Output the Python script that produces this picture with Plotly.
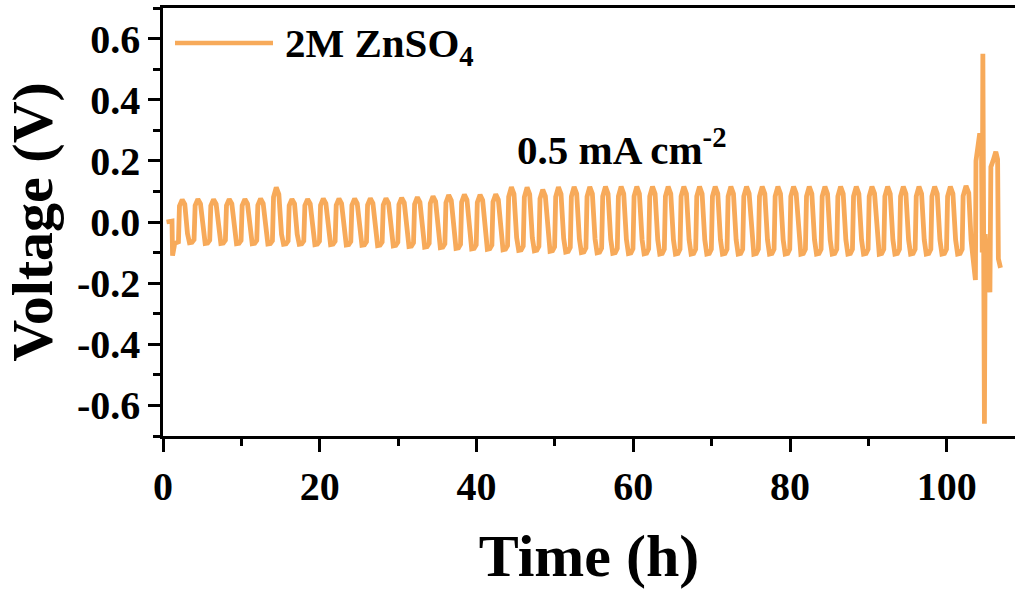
import plotly.graph_objects as go

# ---------------- data ----------------
# rest period before cycling
init_time_h = [0.45, 1.15, 1.22, 1.5, 1.97]
init_volt_v = [0.0, 0.003, -0.11, -0.07, -0.065]

# regular 2 h cycles (1 h plating / 1 h stripping), start times
cycle_start_h = list(range(2, 101, 2))
peak_v = [0.073, 0.075, 0.074, 0.075, 0.075, 0.076, 0.113, 0.075, 0.075, 0.076, 0.076, 0.076, 0.077, 0.077,
          0.079, 0.081, 0.084, 0.088, 0.090, 0.089, 0.091, 0.114, 0.113, 0.106, 0.114, 0.115, 0.115, 0.116,
          0.116, 0.116,
          0.116, 0.116, 0.116, 0.116, 0.116, 0.116, 0.116, 0.116, 0.116, 0.116, 0.116, 0.116, 0.116, 0.116,
          0.116, 0.116, 0.116, 0.116, 0.116, 0.116]
valley_v = [-0.068, -0.070, -0.070, -0.071, -0.071, -0.072, -0.073, -0.073, -0.074, -0.074, -0.075, -0.076,
            -0.077, -0.078,
            -0.080, -0.082, -0.084, -0.086, -0.088, -0.089, -0.091, -0.093, -0.094, -0.096, -0.098, -0.100,
            -0.101, -0.102, -0.103, -0.104,
            -0.105, -0.105, -0.105, -0.105, -0.105, -0.105, -0.105, -0.105, -0.105, -0.105, -0.105, -0.105,
            -0.105, -0.105, -0.105, -0.105, -0.105, -0.105, -0.105, -0.105]
# shape of one cycle: time offset (h) and fraction of that half-cycle's extreme
profile_dt = [0.10, 0.45, 0.78, 1.12, 1.38, 1.70, 1.96]
profile_half = ["p", "p", "p", "v", "v", "v", "v"]
profile_frac = [0.72, 1.00, 0.80, 0.55, 1.00, 0.98, 0.85]

# failure region at the end
tail_time_h = [102.08, 102.45, 102.8, 103.1, 103.35, 103.65, 103.72, 103.95, 104.2, 104.42, 104.52,
               104.6, 104.66, 104.72, 104.8, 104.9, 105.2, 105.5, 105.62, 105.9, 106.25, 106.48, 106.58,
               106.85]
tail_volt_v = [0.085, 0.118, 0.095, -0.060, -0.140, -0.190, 0.200, 0.245, 0.290, 0.250, -0.100,
               0.550, -0.590, -0.300, -0.660, -0.040, -0.170, -0.230, 0.180, 0.200, 0.230, 0.205, -0.120,
               -0.150]

x_tickvals = [0, 20, 40, 60, 80, 100]
x_ticktext = ["0", "20", "40", "60", "80", "100"]
y_tickvals = [-0.6, -0.4, -0.2, 0.0, 0.2, 0.4, 0.6]
y_ticktext = ["-0.6", "-0.4", "-0.2", "0.0", "0.2", "0.4", "0.6"]

# ---------------- build series ----------------
time_h = list(init_time_h)
volt_v = list(init_volt_v)
for t0, p, v in zip(cycle_start_h, peak_v, valley_v):
    for dt, half, fr in zip(profile_dt, profile_half, profile_frac):
        time_h.append(t0 + dt)
        volt_v.append((p if half == "p" else v) * fr)
time_h += tail_time_h
volt_v += tail_volt_v

color = "#F7AA5A"
font_family = "Liberation Serif, Times New Roman, serif"

fig = go.Figure()
fig.add_trace(go.Scatter(x=time_h, y=volt_v, mode="lines",
                         line=dict(color=color, width=4.8),
                         showlegend=False, name="2M ZnSO4"))

axis_common = dict(showgrid=False, zeroline=False, showline=True, linecolor="black", linewidth=2.5,
                   ticks="outside", tickcolor="black", tickwidth=2.5,
                   tickfont=dict(family=font_family, size=40, color="black", weight="bold"))

fig.update_layout(
    width=1015, height=589,
    margin=dict(l=163, r=0, t=8, b=153),
    paper_bgcolor="white", plot_bgcolor="white",
    xaxis=dict(range=[0, 108.7], tickvals=x_tickvals, ticktext=x_ticktext, ticklen=13,
               minor=dict(dtick=10, tick0=0, ticks="outside", ticklen=7, tickwidth=2.5, tickcolor="black"),
               mirror=True,
               title=dict(text="Time (h)", standoff=30,
                          font=dict(family=font_family, size=60, color="black", weight="bold")),
               **axis_common),
    yaxis=dict(range=[-0.7, 0.7], tickvals=y_tickvals, ticktext=y_ticktext, ticklen=12,
               minor=dict(dtick=0.1, tick0=0, ticks="outside", ticklen=7, tickwidth=2.5, tickcolor="black"),
               title=dict(text="Voltage (V)", standoff=12,
                          font=dict(family=font_family, size=58, color="black", weight="bold")),
               **axis_common),
)

# legend drawn manually (long sample line as in the reference)
fig.add_shape(type="line", xref="paper", yref="paper",
              x0=12 / 852, x1=110 / 852, y0=(436 - 43) / 428, y1=(436 - 43) / 428,
              line=dict(color=color, width=4.5))
fig.add_annotation(xref="paper", yref="paper", x=120 / 852, y=(436 - 46) / 428,
                   xanchor="left", yanchor="middle", showarrow=False,
                   text="2M ZnSO<sub>4</sub>",
                   font=dict(family=font_family, size=41, color="black", weight="bold"))
fig.add_annotation(x=58.6, y=0.245, xref="x", yref="y", showarrow=False,
                   text="0.5 mA cm<sup>-2</sup>",
                   font=dict(family=font_family, size=41, color="black", weight="bold"))

fig.write_html("out.html")
